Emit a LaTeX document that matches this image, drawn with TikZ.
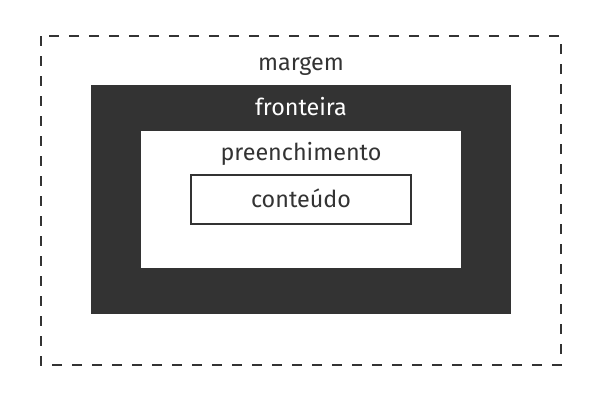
\documentclass[tikz,border=0pt]{standalone}
\usepackage{fontspec}
\setmainfont{Fira Sans}
\usetikzlibrary{positioning}
\definecolor{boxgray}{HTML}{333333}
\tikzset{label text/.style={anchor=base,inner sep=0pt,font=\fontsize{17.5}{21}\selectfont},
         margin line/.style={draw=boxgray,line width=1.5pt,dash pattern=on 7.5pt off 7.5pt},
         border fill/.style={fill=boxgray},
         content line/.style={draw=boxgray,line width=1.5pt},
}
\begin{document}
\begin{tikzpicture}[x=0.75pt,y=-0.75pt]
\useasboundingbox (0,0) rectangle (600,400);
% boxes, outside to inside
\draw[margin line] (41,36) rectangle (561,365);
\fill[border fill] (91,85) rectangle (511,314);
\fill[white] (141,131) rectangle (461,268);
\draw[content line] (191,175) rectangle (411,224);
% labels
\node[label text,text=boxgray] (margem) at (301,70) {margem};
\node[label text,text=white] (fronteira) at (301,115) {fronteira};
\node[label text,text=boxgray] (preenchimento) at (301,160) {preenchimento};
\node[label text,text=boxgray] (conteudo) at (301,207) {conteúdo};
\end{tikzpicture}
\end{document}
